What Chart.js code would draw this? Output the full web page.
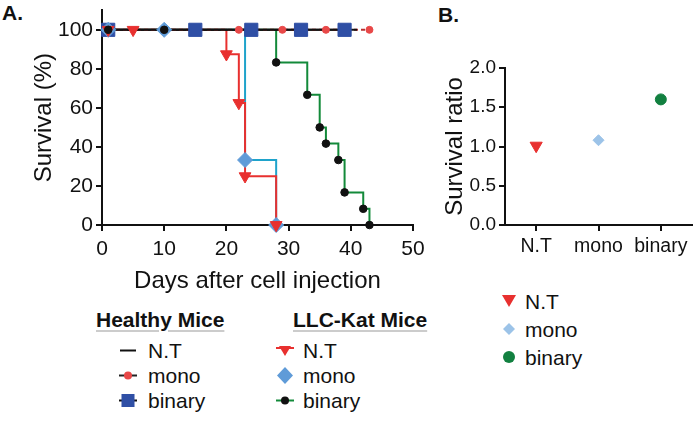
<!DOCTYPE html>
<html>
<head>
<meta charset="utf-8">
<script src="https://cdn.jsdelivr.net/npm/chart.js@4.4.1/dist/chart.umd.min.js"></script>
<style>
  body { margin: 0; background: #fff; font-family: "Liberation Sans", Arial, sans-serif; color: #111; }
  #wrap { position: relative; width: 700px; height: 421px; overflow: hidden; }
  canvas { position: absolute; }
  .panel-label { position: absolute; font-weight: bold; font-size: 21px; line-height: 21px; }
  .legend { position: absolute; font-size: 21px; }
  .legend .head { font-weight: bold; line-height: 25px; text-decoration: underline; text-decoration-color: #ccc; text-underline-offset: 3px; }
  .legend .row { display: flex; align-items: center; height: 25px; line-height: 25px; }
  .legend svg { flex: none; }
</style>
</head>
<body>
<div id="wrap">
  <div class="panel-label" style="left:2px; top:2px;">A.</div>
  <div class="panel-label" style="left:438px; top:4px;">B.</div>
  <canvas id="survivalCurve" width="440" height="300" style="left:0; top:0;"></canvas>
  <canvas id="survivalRatio" width="290" height="260" style="left:410px; top:0;"></canvas>

  <div class="legend" style="left:96px; top:307px;">
    <div class="head">Healthy Mice</div>
  </div>
  <div class="legend" style="left:117px; top:338px;">
    <div class="row"><svg width="22" height="25"><line x1="3" y1="12.5" x2="19" y2="12.5" stroke="#111" stroke-width="2"/></svg><span style="margin-left:9px">N.T</span></div>
    <div class="row"><svg width="22" height="25"><line x1="2" y1="12.5" x2="20" y2="12.5" stroke="#222" stroke-width="2"/><circle cx="11" cy="12.5" r="4" fill="#e84848"/></svg><span style="margin-left:9px">mono</span></div>
    <div class="row"><svg width="22" height="25"><line x1="2" y1="12.5" x2="20" y2="12.5" stroke="#111" stroke-width="2"/><rect x="4.5" y="6" width="13" height="13" fill="#2f4fa5"/></svg><span style="margin-left:9px">binary</span></div>
  </div>

  <div class="legend" style="left:293px; top:307px;">
    <div class="head">LLC-Kat Mice</div>
  </div>
  <div class="legend" style="left:274px; top:338px;">
    <div class="row"><svg width="22" height="25"><line x1="2" y1="10" x2="20" y2="10" stroke="#e8302f" stroke-width="2"/><polygon points="5,8 17,8 11,18" fill="#e8302f"/></svg><span style="margin-left:7px">N.T</span></div>
    <div class="row"><svg width="22" height="25"><polygon points="11,4 19,12.5 11,21 3,12.5" fill="#5f9bd8"/></svg><span style="margin-left:7px">mono</span></div>
    <div class="row"><svg width="22" height="25"><line x1="2" y1="12.5" x2="20" y2="12.5" stroke="#138a3a" stroke-width="2"/><circle cx="11" cy="12.5" r="4" fill="#111"/></svg><span style="margin-left:7px">binary</span></div>
  </div>

  <div class="legend" style="left:498px; top:287px;">
    <div class="row" style="height:28px"><svg width="22" height="28"><polygon points="4,8 18,8 11,20" fill="#e8302f"/></svg><span style="margin-left:5px">N.T</span></div>
    <div class="row" style="height:28px"><svg width="22" height="28"><polygon points="11,8 17,14 11,20 5,14" fill="#9cc3e8"/></svg><span style="margin-left:5px">mono</span></div>
    <div class="row" style="height:28px"><svg width="22" height="28"><circle cx="11" cy="14" r="6" fill="#128040"/></svg><span style="margin-left:5px">binary</span></div>
  </div>
</div>

<script>
// Panel A: Kaplan-Meier survival (%), days after cell injection
const healthyNtDays = [0, 41];
const healthyNtSurvival = [100, 100];
const healthyMonoDays = [0, 1, 22, 29, 36, 43];
const healthyMonoSurvival = [100, 100, 100, 100, 100, 100];
const healthyBinaryDays = [0, 1, 15, 24, 32, 39];
const healthyBinarySurvival = [100, 100, 100, 100, 100, 100];

const llcNtDays = [0, 1, 5, 20, 22, 23, 28];
const llcNtSurvival = [100, 100, 100, 87.5, 62.5, 25, 0];
const llcMonoDays = [0, 1, 10, 23, 28];
const llcMonoSurvival = [100, 100, 100, 33.3, 0];
const llcBinaryDays = [0, 1, 10, 28, 33, 35, 36, 38, 39, 42, 43];
const llcBinarySurvival = [100, 100, 100, 83.3, 66.7, 50, 41.7, 33.3, 16.7, 8.3, 0];

const dayTicks = [0, 10, 20, 30, 40, 50];

// Panel B: survival ratio per treatment
const ratioGroups = ['N.T', 'mono', 'binary'];
const ratioValues = [1.01, 1.08, 1.6];

const FONT = 'Liberation Sans';

function toPoints(days, values) {
    return days.map(function (d, i) { return {x: d, y: values[i]}; });
}

// no symbol at day 0, the line just starts there
function symbolRadius(days, r) {
    return days.map(function (d, i) { return i === 0 ? 0 : r; });
}

function lineSet(days, values, color, dash) {
    return {
        data: toPoints(days, values),
        showLine: true,
        stepped: true,
        borderColor: color,
        borderWidth: 2,
        borderDash: dash || [],
        pointRadius: 0,
        clip: false
    };
}

function symbolSet(days, values, style, color, r, rotation) {
    return {
        data: toPoints(days, values),
        showLine: false,
        pointStyle: style,
        pointRadius: symbolRadius(days, r),
        pointRotation: rotation || 0,
        pointBackgroundColor: color,
        pointBorderColor: color,
        pointBorderWidth: 1,
        clip: false
    };
}

function axisStyle() {
    return {
        grid: { display: true, drawOnChartArea: false, drawTicks: true, tickLength: 6, color: '#111', lineWidth: 2 },
        border: { display: true, color: '#111', width: 2 }
    };
}

function configSurvivalChart() {
    const ctx = document.getElementById('survivalCurve');
    // first dataset is drawn on top
    const datasets = [
        symbolSet(llcBinaryDays, llcBinarySurvival, 'circle', '#111', 3.8),
        symbolSet(llcNtDays, llcNtSurvival, 'triangle', '#e8302f', 6.8, 180),
        symbolSet(llcMonoDays, llcMonoSurvival, 'rectRot', '#5f9bd8', 7.5),
        symbolSet(healthyBinaryDays, healthyBinarySurvival, 'rect', '#2f4fa5', 9.3),
        symbolSet(healthyMonoDays, healthyMonoSurvival, 'circle', '#e84848', 3.5),
        lineSet(healthyNtDays, healthyNtSurvival, '#111'),
        lineSet(healthyMonoDays, healthyMonoSurvival, '#b83030', [4, 3]),
        lineSet(healthyBinaryDays, healthyBinarySurvival, '#111'),
        lineSet(llcNtDays, llcNtSurvival, '#e8302f'),
        lineSet(llcMonoDays, llcMonoSurvival, '#1fa3cb'),
        lineSet(llcBinaryDays, llcBinarySurvival, '#138a3a')
    ];

    const xAxis = axisStyle();
    xAxis.type = 'linear';
    xAxis.min = 0;
    xAxis.max = 50;
    xAxis.afterBuildTicks = function (scale) { scale.ticks = dayTicks.map(function (v) { return {value: v}; }); };
    xAxis.ticks = { color: '#111', font: {family: FONT, size: 21}, padding: 6 };
    xAxis.title = { display: true, text: 'Days after cell injection', color: '#111', font: {family: FONT, size: 24, lineHeight: 1}, padding: {top: 0, bottom: 7} };
    xAxis.afterFit = function (scale) { scale.height = 75; };

    const yAxis = axisStyle();
    yAxis.min = 0;
    yAxis.max = 110;
    yAxis.ticks = { stepSize: 20, includeBounds: false, color: '#111', font: {family: FONT, size: 21}, padding: 3 };
    yAxis.title = { display: true, text: 'Survival (%)', color: '#111', font: {family: FONT, size: 24, lineHeight: 1}, padding: {top: 32, bottom: 0} };
    yAxis.afterFit = function (scale) {
        scale.width = 102;
        scale.paddingTop = 0;
        scale.paddingBottom = 0;
    };

    new Chart(ctx, {
        type: 'scatter',
        data: { datasets: datasets },
        options: {
            responsive: false,
            animation: false,
            events: [],
            layout: { padding: {top: 6, right: 27, left: 0, bottom: 0} },
            plugins: { legend: {display: false}, tooltip: {enabled: false} },
            scales: { x: xAxis, y: yAxis }
        }
    });
}

function configRatioChart() {
    const ctx = document.getElementById('survivalRatio');

    const xAxis = axisStyle();
    xAxis.type = 'category';
    xAxis.offset = true;
    xAxis.grid.offset = false;
    xAxis.ticks = { color: '#111', font: {family: FONT, size: 19.5}, padding: 4 };
    xAxis.afterFit = function (scale) { scale.height = 35; };

    const yAxis = axisStyle();
    yAxis.min = 0;
    yAxis.max = 2;
    yAxis.ticks = { stepSize: 0.5, color: '#111', font: {family: FONT, size: 19}, padding: 3,
        callback: function (v) { return Number(v).toFixed(1); } };
    yAxis.title = { display: true, text: 'Survival ratio', color: '#111', font: {family: FONT, size: 24, lineHeight: 1}, padding: {top: 33, bottom: 0} };
    yAxis.afterFit = function (scale) {
        scale.width = 95;
        scale.paddingTop = 0;
        scale.paddingBottom = 0;
    };

    new Chart(ctx, {
        type: 'line',
        data: {
            labels: ratioGroups,
            datasets: [{
                data: ratioValues,
                showLine: false,
                pointStyle: ['triangle', 'rectRot', 'circle'],
                pointRotation: [180, 0, 0],
                pointRadius: [7, 5.5, 5.5],
                pointBackgroundColor: ['#e8302f', '#9cc3e8', '#128040'],
                pointBorderColor: ['#e8302f', '#9cc3e8', '#128040'],
                pointBorderWidth: 1,
                clip: false
            }]
        },
        options: {
            responsive: false,
            animation: false,
            events: [],
            layout: { padding: {top: 68, right: 5, left: 0, bottom: 0} },
            plugins: { legend: {display: false}, tooltip: {enabled: false} },
            scales: { x: xAxis, y: yAxis }
        }
    });
}

configSurvivalChart();
configRatioChart();
</script>
</body>
</html>
